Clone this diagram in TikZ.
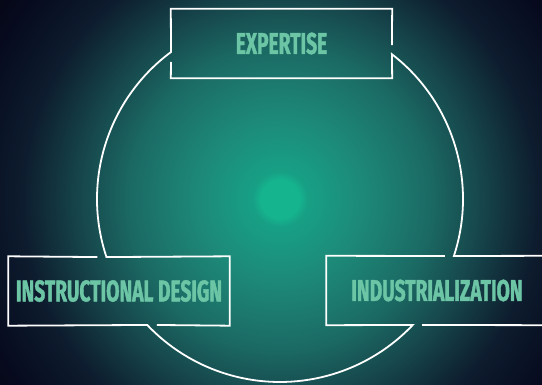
\documentclass[tikz,border=0pt]{standalone}
\usepackage{fontspec}
\usetikzlibrary{calc}
\newfontfamily\tagfont[FakeStretch=0.64,FakeBold=1.2]{Fira Sans}
\definecolor{tagtext}{HTML}{6CC5A5}
\definecolor{bgdark}{HTML}{060818}
\definecolor{glowA}{HTML}{15B38E}
\definecolor{glowB}{HTML}{17A085}
\definecolor{glowC}{HTML}{1D8A79}
\definecolor{glowD}{HTML}{1B6A64}
\definecolor{glowE}{HTML}{174A4E}
\definecolor{glowF}{HTML}{0D1C2E}
\definecolor{glowG}{HTML}{070A1E}
\pgfdeclareradialshading{glow}{\pgfpoint{0bp}{0bp}}{%
  color(0bp)=(glowA); color(1.45bp)=(glowA); color(2bp)=(glowB);
  color(5.9bp)=(glowC); color(11bp)=(glowD); color(14.35bp)=(glowE);
  color(19bp)=(glowF); color(23.5bp)=(glowG); color(25bp)=(bgdark);
  color(50bp)=(bgdark)}
\begin{document}
\begin{tikzpicture}[x=1pt,y=-1pt,
    rim/.style={draw=white,line width=1.8pt},
    tag box/.style={minimum width=221pt,minimum height=69pt,inner sep=0pt,
      text=tagtext,font=\tagfont\bfseries\fontsize{30}{30}\selectfont}]

    \useasboundingbox (0,0) rectangle (542,385);
    \clip (0,0) rectangle (542,385);
    \fill[bgdark] (0,0) rectangle (542,385);
    \coordinate (c) at (280,199);
    \shade[shading=glow] (c) circle[radius=340];

    \node[tag box] (ex) at (281.5,43.5) {EXPERTISE};
    \node[tag box] (ds) at (119,291) {INSTRUCTIONAL DESIGN};
    \node[tag box] (ind) at (437,290.5) {INDUSTRIALIZATION};

    \coordinate (j1) at ($(c)+(233.45:183)$);
    \coordinate (j2) at ($(c)+(161.5:183)$);
    \coordinate (j3) at ($(c)+(136.5:183)$);
    \coordinate (j4) at ($(c)+(43.5:183)$);
    \coordinate (j5) at ($(c)+(18.15:183)$);
    \coordinate (j6) at ($(c)+(-52.3:183)$);

    \draw[rim] ([yshift=9pt]j6) -- (ex.north east) -- (ex.north west) -- (j1)
      arc[start angle=233.45,end angle=161.5,radius=183]
      -- (ds.north east) -- (ds.south east) -- ([xshift=9.5pt]j3);
    \draw[rim] ([yshift=-10pt]j1) -- (ex.south west) -- (ex.south east) -- (j6)
      arc[start angle=-52.3,end angle=18.15,radius=183]
      -- (ind.north east) -- (ind.south east) -- ([xshift=9.5pt]j4);
    \draw[rim] ([xshift=-9pt]j5) -- (ind.north west) -- (ind.south west) -- (j4)
      arc[start angle=43.5,end angle=136.5,radius=183]
      -- (ds.south west) -- (ds.north west) -- ([xshift=-9pt]j2);
\end{tikzpicture}
\end{document}
